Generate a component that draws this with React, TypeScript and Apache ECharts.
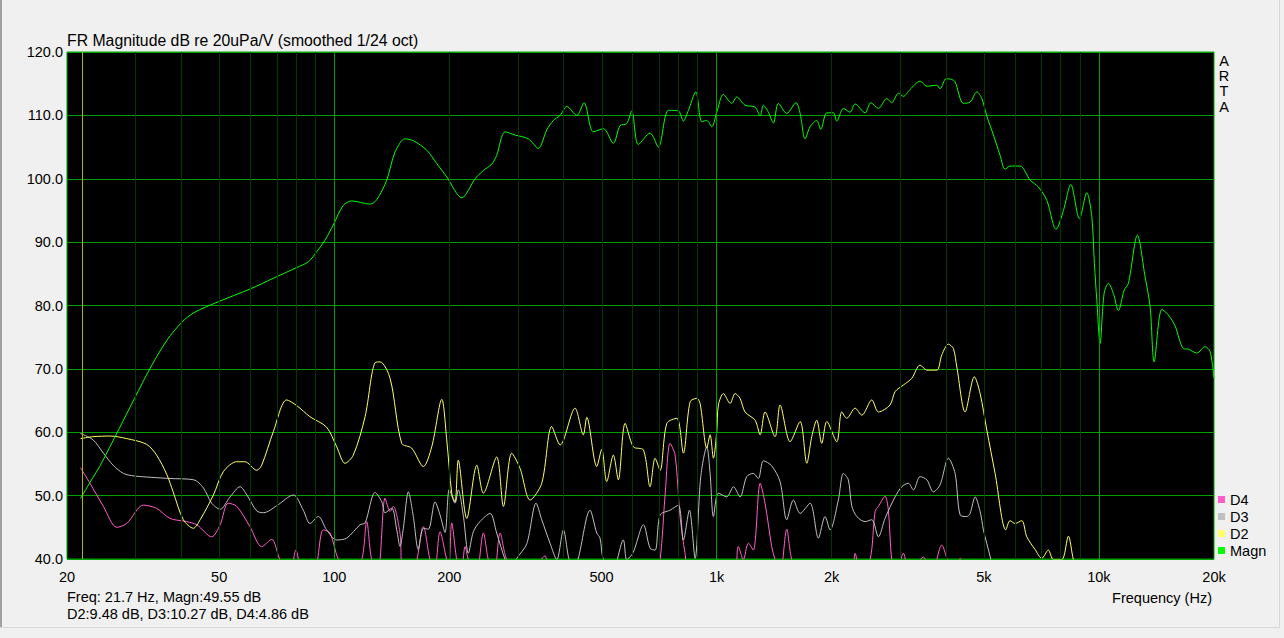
import React, { useEffect, useRef } from "react";
import * as echarts from "echarts";

// ---- data: [frequency Hz, level dB] ----
const MAGN: [number, number][] = [
  [21.7, 49.55], [23.0, 52.15], [24.4, 54.7], [27.4, 60.6], [33.0, 70.1], [36.5, 74.5], [40.0, 77.4], [42.9, 78.85], [49.8, 80.6], [60.2, 82.6],
  [69.3, 84.3], [79.8, 86.0], [85.6, 86.9], [90.0, 88.5], [94.6, 90.3], [99.4, 92.7], [105.6, 95.8], [111.1, 96.5], [124, 96.0], [129.2, 96.7],
  [137.2, 99.8], [144.2, 104.2], [153.1, 106.3], [161, 106.0], [174.6, 104.5], [185.4, 102.4], [196.9, 100.3], [215.6, 97.0], [233.6, 100.0], [245.5, 101.3],
  [258.2, 102.3], [266, 103.7], [279.8, 107.4], [297, 106.9], [321.9, 106.3], [341.8, 104.8], [359.6, 107.7], [374.2, 109.2], [389.8, 110.0], [405.7, 111.4],
  [430.9, 110.0], [450.2, 112.0], [476, 107.4], [505.6, 107.9], [537, 105.6], [559.3, 108.4], [582.2, 108.7], [600, 110.7], [624.2, 105.4], [670, 107.2],
  [704.3, 105.0], [748.2, 110.8], [794.6, 110.7], [818.8, 109.1], [844, 110.8], [882.4, 113.7], [914.8, 109.0], [942.8, 109.2], [971.6, 108.2], [1001, 110.5],
  [1042, 113.3], [1096, 111.9], [1129, 112.9], [1187, 111.6], [1261, 111.3], [1300, 109.9], [1326, 111.6], [1366, 110.5], [1408, 108.8], [1451, 111.9],
  [1526, 110.3], [1614, 112.0], [1654, 110.3], [1704, 106.3], [1756, 108.2], [1828, 109.2], [1873, 107.8], [1942, 110.4], [2021, 110.4], [2062, 109.1],
  [2146, 111.1], [2234, 110.5], [2303, 111.8], [2446, 110.4], [2532, 112.0], [2650, 111.1], [2787, 112.65], [2872, 112.0], [2989, 113.5], [3080, 113.0],
  [3208, 114.1], [3406, 115.4], [3548, 114.6], [3768, 114.75], [3842, 114.2], [3985, 115.8], [4124, 115.65], [4206, 115.3], [4422, 111.9], [4604, 112.1],
  [4794, 113.7], [4941, 112.65], [5091, 109.9], [5298, 106.9], [5515, 103.7], [5683, 101.5], [5857, 102.0], [6220, 102.0], [6607, 99.8], [6946, 98.7],
  [7306, 96.6], [7727, 92.0], [8076, 95.0], [8444, 99.1], [8892, 93.7], [9298, 97.8], [9582, 94.0], [9732, 86.6], [9874, 80.85], [10072, 74.0],
  [10318, 81.9], [10588, 83.5], [10912, 81.9], [11246, 79.2], [11640, 82.4], [11944, 83.5], [12610, 91.1], [13208, 84.5], [13613, 79.8], [13946, 71.1],
  [14608, 79.4], [15202, 78.5], [15828, 76.75], [16636, 73.2], [17146, 73.1], [18036, 72.5], [18960, 73.5], [19540, 72.7], [20000, 68.55],
];

const D2: [number, number][] = [
  [21.7, 59.0], [23.4, 59.3], [25.9, 59.4], [28.65, 59.0], [32.3, 58.1], [34.3, 56.4], [36.5, 53.3], [37.9, 50.6], [40.3, 46.2], [42.8, 44.85],
  [44.6, 46.2], [48.3, 50.1], [51.3, 53.8], [55.6, 55.35], [58.4, 55.35], [62.7, 54.0], [64.6, 54.8], [69.3, 60.1], [75.1, 65.1], [79.8, 64.2],
  [86.4, 62.45], [95.5, 60.8], [101.5, 57.7], [106.7, 55.1], [112.2, 56.4], [120.4, 62.45], [127.9, 71.0], [131.8, 71.1], [140, 68.5], [150.1, 58.25],
  [159.4, 57.5], [171, 54.6], [179.9, 57.7], [191.1, 65.2], [196.9, 58.8], [202.9, 50.4], [207, 49.0], [211.1, 55.6], [222.1, 46.4], [236, 54.8],
  [245.5, 50.4], [266, 56.1], [277, 48.3], [291.2, 56.7], [306.2, 54.3], [325.3, 49.3], [348.9, 51.95], [370.5, 60.9], [389.8, 58.0], [426.4, 63.8],
  [448.2, 59.6], [457.6, 62.35], [486, 54.6], [500.8, 57.3], [516, 52.2], [537, 56.4], [553.4, 52.5], [576.5, 61.4], [606, 57.7], [643.7, 57.2],
  [670, 51.4], [690.6, 55.9], [711.7, 54.0], [741.1, 61.4], [787.1, 62.2], [818.8, 56.7], [852.6, 64.8], [887.5, 65.35], [905.5, 64.55], [942.8, 57.5],
  [961.8, 59.6], [981.2, 55.9], [1001, 60.1], [1011, 64.3], [1042, 66.1], [1085, 64.55], [1118, 66.1], [1152, 65.35], [1187, 63.2], [1261, 61.9],
  [1300, 59.6], [1339, 63.2], [1422, 59.3], [1466, 64.3], [1557, 58.5], [1654, 61.7], [1722, 55.1], [1774, 59.3], [1828, 61.9], [1884, 58.25],
  [1942, 61.7], [2062, 58.5], [2125, 63.2], [2190, 62.2], [2303, 63.8], [2398, 62.7], [2547, 65.1], [2650, 63.2], [2842, 64.3], [2930, 66.4],
  [3080, 67.45], [3239, 68.5], [3406, 70.6], [3548, 69.8], [3768, 69.8], [3882, 72.2], [4040, 73.9], [4163, 73.2], [4250, 70.3], [4467, 63.2],
  [4724, 68.75], [4890, 66.1], [5091, 60.35], [5352, 53.5], [5708, 44.6], [5856, 46.05], [6036, 45.6], [6284, 46.05], [6477, 43.5], [6808, 41.5],
  [7088, 40.1], [7377, 41.4], [7603, 39.9], [7998, 39.9], [8320, 43.6], [8575, 39.9], [9260, 33.0],
];

const D3: [number, number][] = [
  [21.7, 59.8], [23.4, 58.8], [24.9, 56.7], [26.4, 54.8], [28.1, 53.5], [30, 53.1], [33.0, 52.9], [37.2, 52.7], [42.9, 52.5], [45.5, 51.2],
  [47.8, 48.8], [50.3, 47.85], [53.4, 49.8], [56.7, 51.4], [59.1, 50.1], [62.7, 47.6], [65.3, 47.3], [70.7, 48.4], [78.2, 50.1], [83.0, 47.7],
  [86.4, 45.6], [90.9, 46.7], [95.5, 44.6], [101.5, 43.0], [107.8, 43.3], [116.8, 45.4], [120.4, 45.7], [127.9, 50.5], [133.2, 49.0], [135.8, 47.3],
  [141.4, 48.0], [145.7, 44.6], [148.6, 42.0], [151.6, 44.85], [156.3, 50.6], [161, 46.7], [165.9, 41.5], [171, 44.85], [176.2, 44.7], [183.5, 49.0],
  [189.1, 46.95], [194.9, 44.2], [200, 51.0], [207, 48.8], [211.1, 50.9], [217.7, 46.7], [224.3, 40.9], [231.1, 44.3], [240.5, 45.9], [255.6, 47.2],
  [266, 44.1], [279.8, 39.9], [288.4, 38.3], [300.2, 40.1], [318.8, 42.4], [337.2, 48.8], [348.9, 46.2], [366.8, 42.5], [382, 39.9], [397.5, 44.6],
  [409.6, 40.4], [420, 38.0], [434, 39.9], [466.7, 47.7], [486, 44.1], [495.7, 43.3], [505.6, 39.9], [533, 38.0], [570.3, 43.0], [582.2, 39.9],
  [604.8, 41.0], [643.7, 45.4], [670, 41.7], [690.6, 41.4], [711.7, 46.95], [755.6, 47.7], [794.6, 48.5], [818.8, 43.0], [849.1, 47.7], [878.7, 40.1],
  [909.2, 53.0], [942.8, 57.7], [961.8, 53.5], [981.2, 46.7], [1011, 50.4], [1063, 49.8], [1107, 51.4], [1152, 49.8], [1199, 53.0], [1248, 53.5],
  [1286, 52.7], [1326, 55.5], [1394, 54.7], [1466, 52.2], [1526, 46.2], [1588, 49.3], [1654, 47.2], [1756, 48.8], [1846, 43.3], [1922, 46.7],
  [1981, 44.6], [2082, 49.3], [2146, 53.5], [2211, 52.5], [2257, 48.4], [2327, 46.7], [2446, 45.9], [2547, 46.2], [2650, 43.5], [2758, 46.4],
  [2930, 49.8], [3050, 51.4], [3174, 51.95], [3272, 50.9], [3406, 53.0], [3548, 52.5], [3690, 50.6], [3842, 51.7], [4040, 55.9], [4206, 53.5],
  [4336, 46.95], [4514, 46.7], [4604, 47.2], [4745, 49.8], [4890, 47.5], [4988, 44.6], [5193, 40.4], [5515, 33.5],
];

const D4: [number, number][] = [
  [21.7, 54.4], [22.97, 51.95], [24.9, 48.3], [27.0, 45.0], [28.65, 45.6], [31.7, 48.5], [34.3, 48.0], [37.2, 46.4], [41.1, 45.9], [43.7, 45.4],
  [47.8, 43.5], [50.3, 45.4], [52.8, 48.8], [55.6, 48.3], [60.2, 45.1], [64.6, 41.95], [68.6, 43.1], [72.1, 39.9], [76.5, 37.5], [79.4, 41.4],
  [82.9, 37.5], [88.2, 37.5], [93.6, 44.6], [97.5, 44.1], [102.5, 39.9], [110, 37.0], [118, 39.9], [121.6, 45.9], [125.3, 39.9], [130.2, 38.3],
  [135.8, 49.6], [140, 47.5], [142.7, 48.3], [148.6, 44.1], [151.4, 38.3], [160.7, 38.3], [171, 45.1], [178, 39.9], [183, 38.3], [189.1, 44.3],
  [196.9, 39.9], [199.5, 39.0], [202.9, 45.7], [209.1, 39.9], [214.6, 37.5], [219.9, 41.95], [224.3, 39.9], [235, 37.5], [245.5, 44.1], [252.9, 39.9],
  [261.9, 37.5], [271.5, 44.1], [282.6, 39.9], [306, 37.0], [330, 38.0], [356, 40.5], [366.8, 37.5], [500, 37.0], [690, 37.5], [711.7, 39.9],
  [734, 50.4], [755.6, 58.25], [778.9, 56.4], [802.6, 46.7], [827.1, 40.9], [852.6, 37.5], [1100, 37.5], [1140, 41.95], [1175, 39.9], [1211, 42.5],
  [1248, 41.4], [1300, 51.95], [1339, 48.8], [1394, 41.95], [1422, 39.9], [1466, 37.5], [1526, 44.7], [1573, 39.9], [1654, 37.5], [2234, 37.5],
  [2303, 40.9], [2374, 37.5], [2520, 39.9], [2598, 47.5], [2650, 48.3], [2758, 49.9], [2814, 47.7], [2871, 39.9], [2950, 37.5], [3080, 40.9],
  [3200, 37.5], [3474, 40.3], [3650, 37.5], [3882, 42.2], [4003, 40.1], [4150, 37.5], [4336, 40.1], [4467, 37.5],
];

const X_TICKS = [20, 50, 100, 200, 500, 1000, 2000, 5000, 10000, 20000];
const X_MIN_HZ = 20;
const X_MAX_HZ = 20000;
const Y_MIN = 40;
const Y_MAX = 120;
const Y_STEP = 10;
const MINOR_GRID_HZ = [30, 40, 50, 60, 70, 80, 90, 200, 300, 400, 500, 600, 700, 800, 900, 2000, 3000, 4000, 5000, 6000, 7000, 8000, 9000];
const MAJOR_GRID_HZ = [100, 1000, 10000];
const CURSOR_HZ = 21.7;
const LEGEND_ORDER = ["D4", "D3", "D2", "Magn"];

const COLORS: Record<string, string> = {
  Magn: "#00ff00",
  D2: "#ffff66",
  D3: "#c0c0c0",
  D4: "#ff5cc8",
};

const FONT = "Arial, 'Liberation Sans', sans-serif";

const lg = (f: number) => Math.log10(f);
const toXY = (pts: [number, number][]) => pts.map(([f, db]) => [lg(f), db]);

export default function App() {
  const ref = useRef<HTMLDivElement>(null);

  useEffect(() => {
    if (!ref.current) return;
    const chart = echarts.init(ref.current, undefined, { renderer: "svg" });

    const curve = (name: string, pts: [number, number][]) => ({
      name,
      type: "line",
      data: toXY(pts),
      showSymbol: false,
      symbol: "none",
      smooth: 0.3,
      clip: true,
      z: 3,
      lineStyle: { color: COLORS[name], width: 1 },
      itemStyle: { color: COLORS[name] },
      silent: true,
    });

    const gridLines = [
      ...MINOR_GRID_HZ.map((f) => ({ xAxis: lg(f), lineStyle: { color: "#003800", width: 1, type: "solid" } })),
      ...MAJOR_GRID_HZ.map((f) => ({ xAxis: lg(f), lineStyle: { color: "#00a000", width: 1, type: "solid" } })),
      { xAxis: lg(CURSOR_HZ), lineStyle: { color: "#b4b400", width: 1, type: "solid" } },
    ];

    const option: any = {
      animation: false,
      backgroundColor: "#f0f0f0",
      title: {
        text: "FR Magnitude dB re 20uPa/V (smoothed 1/24 oct)",
        left: 67,
        top: 30,
        padding: 0,
        textStyle: { fontSize: 15.8, fontWeight: "normal", color: "#000", fontFamily: FONT, lineHeight: 20 },
      },
      grid: {
        left: 67,
        right: 70,
        top: 52,
        bottom: 79,
        show: true,
        backgroundColor: "#000",
        borderColor: "#00a800",
        borderWidth: 1,
        containLabel: false,
      },
      legend: {
        orient: "vertical",
        left: 1218,
        top: 491,
        padding: 0,
        itemWidth: 7,
        itemHeight: 7,
        itemGap: 0,
        icon: "rect",
        selectedMode: false,
        data: LEGEND_ORDER,
        textStyle: { fontSize: 14.5, color: "#000", fontFamily: FONT, lineHeight: 17 },
      },
      xAxis: {
        type: "value",
        min: lg(X_MIN_HZ),
        max: lg(X_MAX_HZ),
        axisLine: { show: false },
        axisTick: { show: false },
        splitLine: { show: false },
        axisLabel: {
          customValues: X_TICKS.map(lg),
          margin: 10,
          color: "#000",
          fontSize: 14.5,
          fontFamily: FONT,
          lineHeight: 16,
          formatter: (v: number) => {
            const f = Math.round(Math.pow(10, v));
            return f >= 1000 ? `${f / 1000}k` : `${f}`;
          },
        },
      },
      yAxis: {
        type: "value",
        min: Y_MIN,
        max: Y_MAX,
        interval: Y_STEP,
        axisLine: { show: false },
        axisTick: { show: false },
        splitLine: { show: true, lineStyle: { color: "#00a000", width: 1 } },
        axisLabel: {
          margin: 4,
          color: "#000",
          fontSize: 14.5,
          fontFamily: FONT,
          formatter: (v: number) => v.toFixed(1),
        },
      },
      series: [
        {
          name: "gridlines",
          type: "line",
          data: [],
          z: 1,
          silent: true,
          markLine: {
            silent: true,
            symbol: ["none", "none"],
            label: { show: false },
            animation: false,
            data: gridLines,
          },
        },
        curve("D4", D4),
        curve("D3", D3),
        curve("D2", D2),
        curve("Magn", MAGN),
      ],
      graphic: [
        { type: "line", shape: { x1: 1, y1: 0, x2: 1, y2: 627 }, style: { stroke: "#a0a0a0", lineWidth: 2 }, silent: true },
        { type: "line", shape: { x1: 0, y1: 627.5, x2: 1280, y2: 627.5 }, style: { stroke: "#d8d8d8", lineWidth: 1 }, silent: true },
        { type: "line", shape: { x1: 1279.5, y1: 0, x2: 1279.5, y2: 627 }, style: { stroke: "#d8d8d8", lineWidth: 1 }, silent: true },
        {
          type: "text",
          x: 1224,
          y: 53,
          silent: true,
          style: { text: "A\nR\nT\nA", font: `14.5px ${FONT}`, fill: "#000", align: "center", verticalAlign: "top", lineHeight: 15.3 },
        },
        {
          type: "text",
          x: 67,
          y: 597,
          silent: true,
          style: { text: "Freq: 21.7 Hz, Magn:49.55 dB", font: `14.5px ${FONT}`, fill: "#000", verticalAlign: "middle" },
        },
        {
          type: "text",
          x: 67,
          y: 614,
          silent: true,
          style: { text: "D2:9.48 dB, D3:10.27 dB, D4:4.86 dB", font: `14.5px ${FONT}`, fill: "#000", verticalAlign: "middle" },
        },
        {
          type: "text",
          x: 1212,
          y: 598,
          silent: true,
          style: { text: "Frequency (Hz)", font: `14.5px ${FONT}`, fill: "#000", align: "right", verticalAlign: "middle" },
        },
      ],
    };

    chart.setOption(option);
    return () => chart.dispose();
  }, []);

  return <div ref={ref} style={{ position: "absolute", left: 0, top: 0, width: 1284, height: 638 }} />;
}
